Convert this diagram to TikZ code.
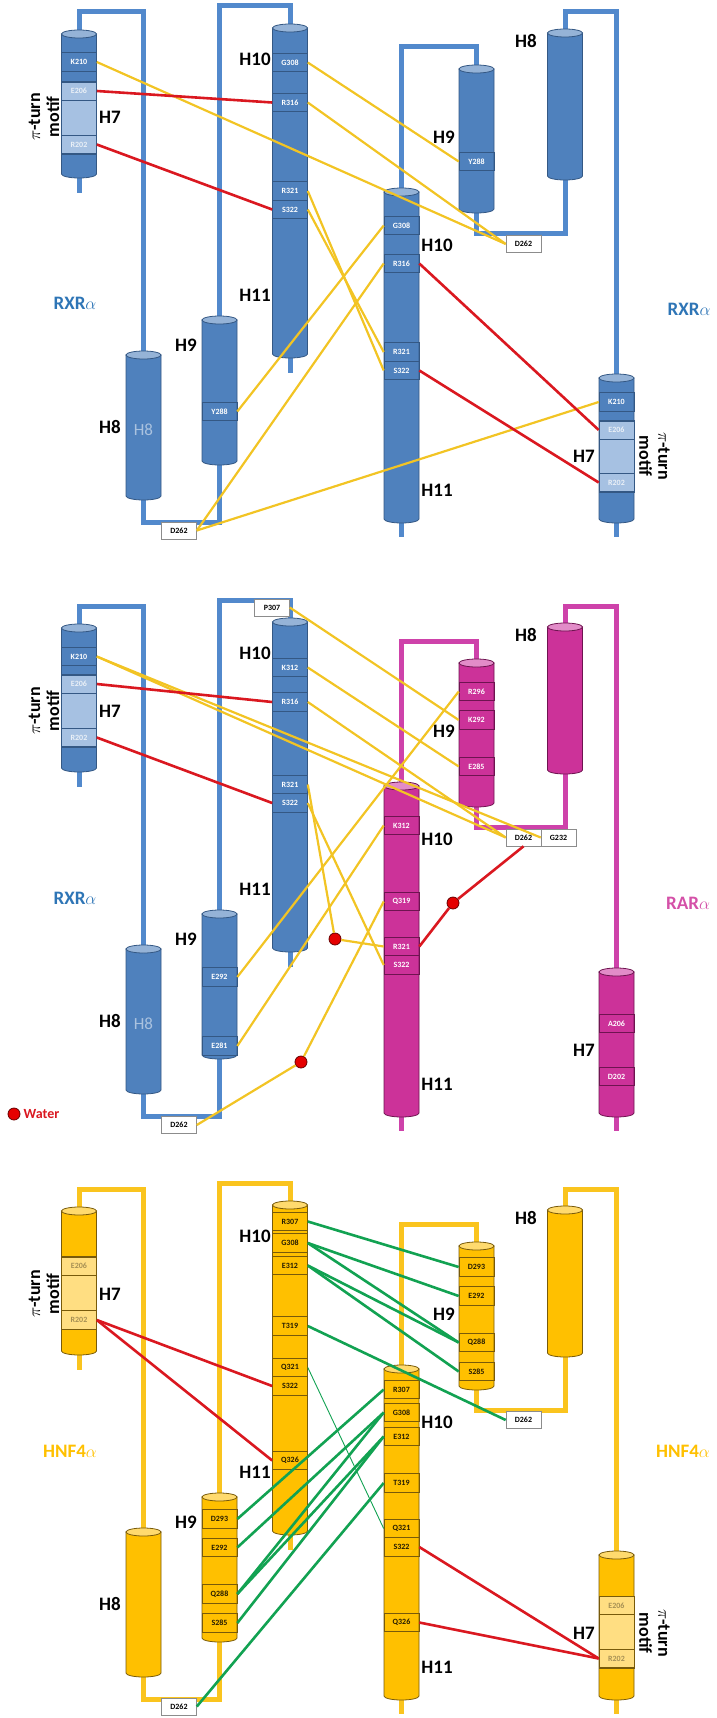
\documentclass[tikz,border=0pt]{standalone}
\usepackage{fontspec}
\setmainfont{Carlito}
\usetikzlibrary{positioning,calc}
\definecolor{rxrblue}{RGB}{79,129,189}
\definecolor{rxrcap}{RGB}{149,179,215}
\definecolor{rxredge}{RGB}{52,88,132}
\definecolor{rxrpale}{RGB}{166,193,226}
\definecolor{rxrloop}{RGB}{82,137,204}
\definecolor{rxrtext}{RGB}{46,117,182}
\definecolor{rarpink}{RGB}{204,50,153}
\definecolor{rarcap}{RGB}{226,140,200}
\definecolor{raredge}{RGB}{110,20,80}
\definecolor{rarloop}{RGB}{206,66,170}
\definecolor{hnfgold}{RGB}{255,192,0}
\definecolor{hnfcap}{RGB}{255,218,110}
\definecolor{hnfedge}{RGB}{120,90,10}
\definecolor{hnfpale}{RGB}{255,222,130}
\definecolor{hnfloop}{RGB}{250,196,30}
\definecolor{bondyellow}{RGB}{242,196,36}
\definecolor{bondred}{RGB}{218,24,32}
\definecolor{bondgreen}{RGB}{18,162,82}

\newcommand{\resfont}{\fontsize{8}{9}\selectfont\bfseries}

\tikzset{
  linker/.style={line width=5pt, draw=#1},
  res/.style={draw=#1, line width=0.6pt, minimum width=35pt, minimum height=18.5pt, inner sep=0pt, font=\resfont},
  resblue/.style={res=rxredge, text=white},
  respale/.style={res=rxredge, text=white!88!rxrblue},
  respink/.style={res=raredge, text=white},
  resgold/.style={res=hnfedge, text=black!70!hnfedge},
  resgoldpale/.style={res=hnfedge, text=black!35!hnfpale},
  tagbox/.style={draw=black!45, fill=white, line width=0.6pt, minimum width=35pt, minimum height=17pt, inner sep=0pt, font=\resfont},
  hname/.style={font=\fontsize{19}{21}\selectfont\bfseries},
  motif/.style={font=\fontsize{18}{19}\selectfont\bfseries, align=center},
  species/.style={font=\fontsize{19}{21}\selectfont\bfseries, text=#1},
  water/.style={circle, fill=red!90!black, draw=red!40!black, line width=0.8pt, minimum size=12pt, inner sep=0pt},
  hbond/.style={draw=bondyellow, line width=2.2pt},
  saltbridge/.style={draw=bondred, line width=2.6pt},
  gbond/.style={draw=bondgreen, line width=2.6pt},
  gthin/.style={draw=bondgreen, line width=0.9pt}
}

% one helix: x-centre, top, bottom, body, cap, edge
\newcommand{\helix}[6]{%
  \filldraw[fill=#4, draw=#6, line width=0.8pt]
    (#1-17.5,#2) -- (#1-17.5,#3)
    arc[start angle=180, end angle=360, x radius=17.5pt, y radius=4pt]
    -- (#1+17.5,#2) -- cycle;
  \filldraw[fill=#5, draw=#6, line width=0.8pt]
    (#1,#2) ellipse[x radius=17.5pt, y radius=4pt];
}

% left monomer: chain and helices H7--H11
\newcommand{\leftmono}[4]{%
  \draw[linker=#1] (79,174) -- (79,193);
  \draw[linker=#1] (79,34) -- (79,12) -- (143.5,12) -- (143.5,355);
  \draw[linker=#1] (143.5,496) -- (143.5,522) -- (219.5,522) -- (219.5,461);
  \draw[linker=#1] (219.5,320) -- (219.5,6) -- (290,6) -- (290,28);
  \draw[linker=#1] (290,354) -- (290,373);
  \helix{79}{34}{174}{#2}{#3}{#4}
  \helix{143.5}{355}{496}{#2}{#3}{#4}
  \helix{219.5}{320}{461}{#2}{#3}{#4}
  \helix{290}{28}{354}{#2}{#3}{#4}
}

% right monomer
\newcommand{\rightmono}[4]{%
  \draw[linker=#1] (401.5,519) -- (401.5,537);
  \draw[linker=#1] (401.5,192) -- (401.5,47) -- (476.5,47) -- (476.5,69);
  \draw[linker=#1] (476.5,209) -- (476.5,233) -- (565,233) -- (565,176);
  \draw[linker=#1] (565,33) -- (565,12) -- (616.5,12) -- (616.5,378);
  \draw[linker=#1] (616.5,519) -- (616.5,537);
  \helix{401.5}{192}{519}{#2}{#3}{#4}
  \helix{476.5}{69}{209}{#2}{#3}{#4}
  \helix{565}{33}{176}{#2}{#3}{#4}
  \helix{616.5}{378}{519}{#2}{#3}{#4}
}

% helix names, prefix #1
\newcommand{\helixnames}[1]{%
  \node[hname] (#1-h7l) at (110,117) {H7};
  \node[hname] (#1-h8l) at (110,427) {H8};
  \node[hname] (#1-h9l) at (186,345) {H9};
  \node[hname] (#1-h10l) at (255,59) {H10};
  \node[hname] (#1-h11l) at (255,295) {H11};
  \node[motif, rotate=90] (#1-pil) at (44,117) {$\pi$-turn\\motif};
  \node[hname] (#1-h8r) at (526,41) {H8};
  \node[hname] (#1-h9r) at (444,137) {H9};
  \node[hname] (#1-h10r) at (437,245) {H10};
  \node[hname] (#1-h11r) at (437,490) {H11};
  \node[hname] (#1-h7r) at (584,456) {H7};
}

\begin{document}
\begin{tikzpicture}[x=1pt, y=-1pt]
\useasboundingbox (0,0) rectangle (716,1718);

%% RXR / RXR
\begin{scope}
  \leftmono{rxrloop}{rxrblue}{rxrcap}{rxredge}
  \rightmono{rxrloop}{rxrblue}{rxrcap}{rxredge}
  \helixnames{a}
  \node[motif, rotate=-90] (a-pir) at (654.5,456) {$\pi$-turn\\motif};
  \node[font=\fontsize{17}{19}\selectfont, text=rxrcap!80!white] (a-h8in) at (143.5,430) {H8};
  \node[species=rxrtext] (a-spl) at (75,303) {RXR$\alpha$};
  \node[species=rxrtext] (a-spr) at (689,309) {RXR$\alpha$};
  \filldraw[fill=rxrpale, draw=rxredge, line width=0.6pt] (61.5,82) rectangle (96.5,154);
  \filldraw[fill=rxrpale, draw=rxredge, line width=0.6pt] (599,421) rectangle (634,492);
  \node[resblue] (a7l-K210) at (79,62) {K210};
  \node[respale] (a7l-E206) at (79,91) {E206};
  \node[respale] (a7l-R202) at (79,144.5) {R202};
  \node[resblue] (a10l-G308) at (290,62.5) {G308};
  \node[resblue] (a10l-R316) at (290,102.5) {R316};
  \node[resblue] (a10l-R321) at (290,191) {R321};
  \node[resblue] (a10l-S322) at (290,209.5) {S322};
  \node[resblue] (a9l-Y288) at (219.5,411.5) {Y288};
  \node[resblue] (a10r-G308) at (401.5,225.5) {G308};
  \node[resblue] (a10r-R316) at (401.5,263.5) {R316};
  \node[resblue] (a10r-R321) at (401.5,352) {R321};
  \node[resblue] (a10r-S322) at (401.5,370.5) {S322};
  \node[resblue] (a9r-Y288) at (476.5,161.5) {Y288};
  \node[resblue] (a7r-K210) at (616.5,402) {K210};
  \node[respale] (a7r-E206) at (616.5,430) {E206};
  \node[respale] (a7r-R202) at (616.5,482.5) {R202};
  \node[tagbox] (a-d262l) at (179,530.5) {D262};
  \node[tagbox] (a-d262r) at (523.5,244) {D262};
  % hydrogen bonds
  \draw[hbond] (a7l-K210.east) -- (a-d262r.west);
  \draw[hbond] (a10l-G308.east) -- (a9r-Y288.west);
  \draw[hbond] (a10l-R316.east) -- (a-d262r.west);
  \draw[hbond] (a10l-R321.east) -- (a10r-S322.west);
  \draw[hbond] (a10l-S322.east) -- (a10r-R321.west);
  \draw[hbond] (a9l-Y288.east) -- (a10r-G308.west);
  \draw[hbond] (a-d262l.east) -- (a10r-R316.west);
  \draw[hbond] (a-d262l.east) -- (a7r-K210.west);
  % salt bridges
  \draw[saltbridge] (a7l-E206.east) -- (a10l-R316.west);
  \draw[saltbridge] (a7l-R202.east) -- (a10l-S322.west);
  \draw[saltbridge] (a10r-R316.east) -- (a7r-E206.west);
  \draw[saltbridge] (a10r-S322.east) -- (a7r-R202.west);
\end{scope}

%% RXR / RAR
\begin{scope}[shift={(0,594)}]
  \leftmono{rxrloop}{rxrblue}{rxrcap}{rxredge}
  \rightmono{rarloop}{rarpink}{rarcap}{raredge}
  \helixnames{b}
  \node[font=\fontsize{17}{19}\selectfont, text=rxrcap!80!white] (b-h8in) at (143.5,430) {H8};
  \node[species=rxrtext] (b-spl) at (75,304) {RXR$\alpha$};
  \node[species=rarpink!85!white] (b-spr) at (688,309) {RAR$\alpha$};
  \filldraw[fill=rxrpale, draw=rxredge, line width=0.6pt] (61.5,81) rectangle (96.5,153);
  \node[resblue] (b7l-K210) at (79,62.5) {K210};
  \node[respale] (b7l-E206) at (79,90) {E206};
  \node[respale] (b7l-R202) at (79,143.5) {R202};
  \node[resblue] (b10l-K312) at (290,73.5) {K312};
  \node[resblue] (b10l-R316) at (290,108) {R316};
  \node[resblue] (b10l-R321) at (290,190.5) {R321};
  \node[resblue] (b10l-S322) at (290,209) {S322};
  \node[resblue] (b9l-E292) at (219.5,383) {E292};
  \node[resblue] (b9l-E281) at (219.5,452) {E281};
  \node[respink] (b9r-R296) at (476.5,97.5) {R296};
  \node[respink] (b9r-K292) at (476.5,126) {K292};
  \node[respink] (b9r-E285) at (476.5,172.5) {E285};
  \node[respink] (b10r-K312) at (401.5,231.5) {K312};
  \node[respink] (b10r-Q319) at (401.5,307.5) {Q319};
  \node[respink] (b10r-R321) at (401.5,352.5) {R321};
  \node[respink] (b10r-S322) at (401.5,371) {S322};
  \node[respink] (b7r-A206) at (616.5,429.5) {A206};
  \node[respink] (b7r-D202) at (616.5,482.5) {D202};
  \node[tagbox] (b-p307) at (272,13.5) {P307};
  \node[tagbox] (b-d262l) at (179,531) {D262};
  \node[tagbox] (b-d262r) at (523.5,243.5) {D262};
  \node[tagbox] (b-g232) at (558.5,243.5) {G232};
  \node[water] (b-w1) at (335,345) {};
  \node[water] (b-w2) at (301,468) {};
  \node[water] (b-w3) at (453,309) {};
  % hydrogen bonds
  \draw[hbond] (b7l-K210.east) -- (b-d262r.west);
  \draw[hbond] (b7l-K210.east) -- (b-g232.west);
  \draw[hbond] (b-p307.east) -- (b9r-K292.west);
  \draw[hbond] (b10l-K312.east) -- (b9r-E285.west);
  \draw[hbond] (b10l-R316.east) -- (b-d262r.west);
  \draw[hbond] (b9l-E292.east) -- (b9r-R296.west);
  \draw[hbond] (b9l-E281.east) -- (b10r-K312.west);
  \draw[hbond] (b10l-R321.east) -- (b-w1) -- (b10r-R321.west);
  \draw[hbond] (b10l-S322.east) -- (b10r-S322.west);
  \draw[hbond] (b-d262l.east) -- (b-w2) -- (b10r-Q319.west);
  % salt bridges
  \draw[saltbridge] (b7l-E206.east) -- (b10l-R316.west);
  \draw[saltbridge] (b7l-R202.east) -- (b10l-S322.west);
  \draw[saltbridge] (b10r-R321.east) -- (b-w3) -- (b-d262r.south);
\end{scope}

% legend
\node[water] (legdot) at (14,1114) {};
\node[right=3pt of legdot, inner sep=0pt, text=bondred, font=\fontsize{14}{16}\selectfont\bfseries] (legtxt) {Water};

%% HNF4 / HNF4
\begin{scope}[shift={(0,1177)}]
  \leftmono{hnfloop}{hnfgold}{hnfcap}{hnfedge}
  \rightmono{hnfloop}{hnfgold}{hnfcap}{hnfedge}
  \helixnames{c}
  \node[motif, rotate=-90] (c-pir) at (654.5,456) {$\pi$-turn\\motif};
  \node[species=hnfgold] (c-spl) at (70,274) {HNF4$\alpha$};
  \node[species=hnfgold] (c-spr) at (683,274) {HNF4$\alpha$};
  \filldraw[fill=hnfpale, draw=hnfedge, line width=0.6pt] (61.5,80) rectangle (96.5,152);
  \filldraw[fill=hnfpale, draw=hnfedge, line width=0.6pt] (599,419) rectangle (634,491);
  \node[resgoldpale] (c7l-E206) at (79,89) {E206};
  \node[resgoldpale] (c7l-R202) at (79,143) {R202};
  \node[resgold] (c10l-R307) at (290,44.5) {R307};
  \node[resgold] (c10l-G308) at (290,66) {G308};
  \node[resgold] (c10l-E312) at (290,88.5) {E312};
  \node[resgold] (c10l-T319) at (290,149) {T319};
  \node[resgold] (c10l-Q321) at (290,190.5) {Q321};
  \node[resgold] (c10l-S322) at (290,209) {S322};
  \node[resgold] (c10l-Q326) at (290,283.5) {Q326};
  \node[resgold] (c9l-D293) at (219.5,342) {D293};
  \node[resgold] (c9l-E292) at (219.5,370.5) {E292};
  \node[resgold] (c9l-Q288) at (219.5,417) {Q288};
  \node[resgold] (c9l-S285) at (219.5,446) {S285};
  \node[resgold] (c9r-D293) at (476.5,90) {D293};
  \node[resgold] (c9r-E292) at (476.5,119) {E292};
  \node[resgold] (c9r-Q288) at (476.5,165.5) {Q288};
  \node[resgold] (c9r-S285) at (476.5,194.5) {S285};
  \node[resgold] (c10r-R307) at (401.5,212.5) {R307};
  \node[resgold] (c10r-G308) at (401.5,235.5) {G308};
  \node[resgold] (c10r-E312) at (401.5,259.5) {E312};
  \node[resgold] (c10r-T319) at (401.5,306) {T319};
  \node[resgold] (c10r-Q321) at (401.5,351.5) {Q321};
  \node[resgold] (c10r-S322) at (401.5,370) {S322};
  \node[resgold] (c10r-Q326) at (401.5,445.5) {Q326};
  \node[resgoldpale] (c7r-E206) at (616.5,428.5) {E206};
  \node[resgoldpale] (c7r-R202) at (616.5,481.5) {R202};
  \node[tagbox] (c-d262l) at (179,529.5) {D262};
  \node[tagbox] (c-d262r) at (523.5,243) {D262};
  % hydrogen bonds
  \draw[gbond] (c10l-R307.east) -- (c9r-D293.west);
  \draw[gbond] (c10l-G308.east) -- (c9r-E292.west);
  \draw[gbond] (c10l-G308.east) -- (c9r-Q288.west);
  \draw[gbond] (c10l-E312.east) -- (c9r-Q288.west);
  \draw[gbond] (c10l-E312.east) -- (c9r-S285.west);
  \draw[gbond] (c10l-T319.east) -- (c-d262r.west);
  \draw[gthin] (c10l-Q321.east) -- (c10r-Q321.west);
  \draw[gbond] (c9l-D293.east) -- (c10r-R307.west);
  \draw[gbond] (c9l-E292.east) -- (c10r-G308.west);
  \draw[gbond] (c9l-Q288.east) -- (c10r-G308.west);
  \draw[gbond] (c9l-Q288.east) -- (c10r-E312.west);
  \draw[gbond] (c9l-S285.east) -- (c10r-E312.west);
  \draw[gbond] (c-d262l.east) -- (c10r-T319.west);
  % salt bridges
  \draw[saltbridge] (c7l-R202.east) -- (c10l-S322.west);
  \draw[saltbridge] (c7l-R202.east) -- (c10l-Q326.west);
  \draw[saltbridge] (c10r-S322.east) -- (c7r-R202.west);
  \draw[saltbridge] (c10r-Q326.east) -- (c7r-R202.west);
\end{scope}
\end{tikzpicture}
\end{document}
